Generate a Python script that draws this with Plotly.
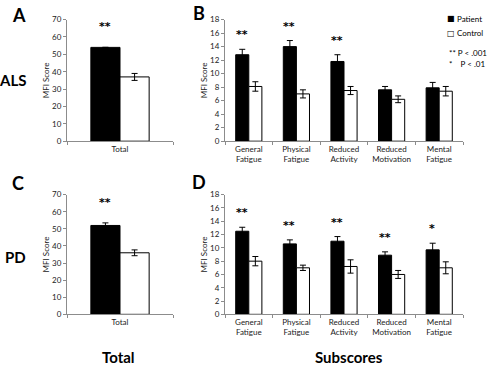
import plotly.graph_objects as go

W, H = 489, 367

total_cat = ["Total"]
sub_cats = ["General<br>Fatigue", "Physical<br>Fatigue", "Reduced<br>Activity",
            "Reduced<br>Motivation", "Mental<br>Fatigue"]

als_total_patient = [54.0]
als_total_patient_err = [0.0]
als_total_control = [37.0]
als_total_control_err = [2.0]
als_total_sig = ["**"]

als_sub_patient = [12.8, 14.0, 11.8, 7.6, 7.9]
als_sub_patient_err = [0.8, 0.9, 1.0, 0.5, 0.8]
als_sub_control = [8.1, 7.0, 7.5, 6.2, 7.4]
als_sub_control_err = [0.7, 0.6, 0.6, 0.5, 0.7]
als_sub_sig = ["**", "**", "**", "", ""]

pd_total_patient = [52.0]
pd_total_patient_err = [1.5]
pd_total_control = [36.0]
pd_total_control_err = [1.7]
pd_total_sig = ["**"]

pd_sub_patient = [12.5, 10.6, 11.0, 8.9, 9.7]
pd_sub_patient_err = [0.6, 0.6, 0.7, 0.5, 1.0]
pd_sub_control = [8.0, 7.0, 7.2, 6.0, 7.0]
pd_sub_control_err = [0.7, 0.4, 1.0, 0.6, 0.9]
pd_sub_sig = ["**", "**", "**", "**", "*"]

legend_names = ["Patient", "Control"]
legend_symbols = ["\u25A0", "\u25A1"]
sig_legend = ["** P < .001", "*&nbsp;&nbsp;&nbsp;&nbsp;P < .01"]

FONT = "Lato"
AX_COLOR = "#8c8c8c"

fig = go.Figure()

panels = [
    ("x", "y", total_cat, als_total_patient, als_total_patient_err, als_total_control, als_total_control_err, als_total_sig),
    ("x2", "y2", sub_cats, als_sub_patient, als_sub_patient_err, als_sub_control, als_sub_control_err, als_sub_sig),
    ("x3", "y3", total_cat, pd_total_patient, pd_total_patient_err, pd_total_control, pd_total_control_err, pd_total_sig),
    ("x4", "y4", sub_cats, pd_sub_patient, pd_sub_patient_err, pd_sub_control, pd_sub_control_err, pd_sub_sig),
]

for xa, ya, cats, pv, pe, cv, ce, sig in panels:
    fig.add_trace(go.Bar(
        x=cats, y=pv, xaxis=xa, yaxis=ya, name="Patient",
        marker=dict(color="black", line=dict(color="black", width=1)),
        error_y=dict(type="data", array=pe, visible=True, color="black", thickness=1, width=3),
        offsetgroup="p", showlegend=False,
    ))
    fig.add_trace(go.Bar(
        x=cats, y=cv, xaxis=xa, yaxis=ya, name="Control",
        marker=dict(color="white", line=dict(color="black", width=1)),
        error_y=dict(type="data", array=ce, visible=True, color="black", thickness=1, width=3),
        offsetgroup="c", showlegend=False,
    ))
    single = len(cats) == 1
    for c, v, e, s in zip(cats, pv, pe, sig):
        if s:
            fig.add_annotation(
                x=c, y=v + e, xref=xa, yref=ya, text=s, showarrow=False,
                xanchor="center", yanchor="bottom",
                yshift=12 if single else 6,
                xshift=-15 if single else -7,
                font=dict(family="DejaVu Sans", size=11, color="black", weight="bold"),
            )

def px_x(a, b):
    return [a / W, b / W]

def px_y(top, bottom):
    return [1 - bottom / H, 1 - top / H]

xdoms = {"": px_x(67, 173), "2": px_x(225, 463), "3": px_x(67, 173), "4": px_x(225, 463)}
ydoms = {"": px_y(15, 140), "2": px_y(15, 140), "3": px_y(195, 318), "4": px_y(195, 318)}
yranges = {"": (70, 10), "2": (18, 2), "3": (70, 10), "4": (18, 2)}

layout = dict(
    width=W, height=H, margin=dict(l=0, r=0, t=0, b=0),
    plot_bgcolor="white", paper_bgcolor="white",
    barmode="group", bargap=0.45, bargroupgap=0,
    font=dict(family=FONT, size=8, color="#222"),
)
for k in ["", "2", "3", "4"]:
    mx, dt = yranges[k]
    layout["xaxis" + k] = dict(
        domain=xdoms[k], anchor="y" + k, showline=True, linecolor=AX_COLOR, linewidth=1,
        ticks="outside", tickson="boundaries", ticklen=3, tickcolor=AX_COLOR,
        tickfont=dict(family=FONT, size=8, color="#222"), showgrid=False, zeroline=False,
    )
    layout["yaxis" + k] = dict(
        domain=ydoms[k], anchor="x" + k, range=[0, mx], tick0=0, dtick=dt,
        showline=True, linecolor=AX_COLOR, linewidth=1, ticks="outside", ticklen=3,
        tickcolor=AX_COLOR, showgrid=False, zeroline=False,
        tickfont=dict(family=FONT, size=8, color="#222"),
        title=dict(text="MFI Score", font=dict(family=FONT, size=8, color="#222"), standoff=1),
    )
fig.update_layout(**layout)

def txt(x, y, s, size, bold=True, anchor="center", yanchor="middle", family=FONT):
    fig.add_annotation(
        x=x / W, y=1 - y / H, xref="paper", yref="paper", text=s, showarrow=False,
        xanchor=anchor, yanchor=yanchor,
        font=dict(family=family, size=size, color="black", weight="bold" if bold else "normal"),
    )

txt(19, 10, "A", 18)
txt(199, 8, "B", 18)
txt(18, 183, "C", 18)
txt(199, 182, "D", 18)
txt(12, 77, "ALS", 15)
txt(15, 259, "PD", 15)
txt(118, 362, "Total", 15)
txt(349, 362, "Subscores", 15)

for i, (sym, name) in enumerate(zip(legend_symbols, legend_names)):
    yy = 14 + 15 * i
    txt(451, yy, sym, 8, bold=False, family="DejaVu Sans")
    txt(455, yy, name, 8, bold=False, anchor="left")
for i, s in enumerate(sig_legend):
    txt(447, 49 + 12 * i, s, 8, bold=False, anchor="left")

fig.write_html("out.html", config={"displayModeBar": False},
               post_script="document.body.style.margin='0';document.body.style.overflow='hidden';")
